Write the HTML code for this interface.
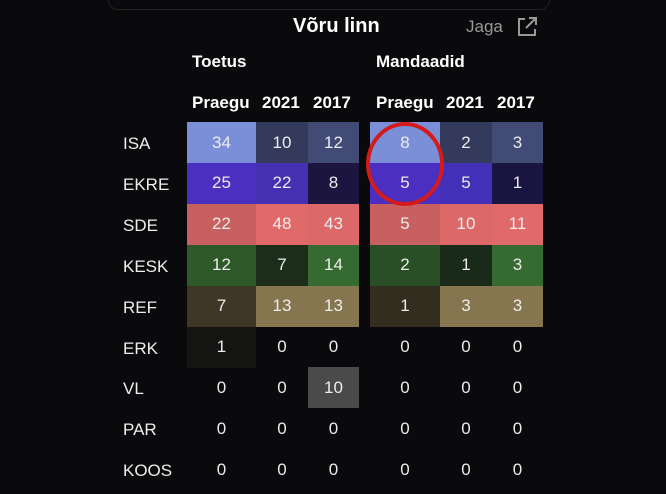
<!DOCTYPE html>
<html><head><meta charset="utf-8"><style>
body{margin:0;width:666px;height:494px;background:#0a0a0d;overflow:hidden;font-family:"Liberation Sans",sans-serif;color:#eee;position:relative}
.t{position:absolute;white-space:nowrap}
.c{position:absolute;display:flex;align-items:center;justify-content:center;font-size:17px;color:#ececec}
.h{font-weight:bold;font-size:17px;color:#fff}
.l{font-size:17px;color:#eee}
</style></head><body>
<div style="position:absolute;left:108px;top:-12px;width:440px;height:20px;border:1px solid #222;border-radius:10px"></div>
<div class="t" style="left:293px;top:15px;font-size:20px;font-weight:bold;color:#fff">Võru linn</div>
<div class="t" style="left:466px;top:17px;font-size:17px;color:#999">Jaga</div>
<svg class="t" style="left:516px;top:16px" width="22" height="22" viewBox="0 0 22 22" fill="none" stroke="#999" stroke-width="2"><path d="M9 3H3v16h16v-6"/><path d="M13 2h7v7M20 2l-10 10"/></svg>
<div class="t h" style="left:192px;top:52px">Toetus</div>
<div class="t h" style="left:376px;top:52px">Mandaadid</div>
<div class="t h" style="left:192px;top:93px">Praegu</div>
<div class="t h" style="left:262px;top:93px">2021</div>
<div class="t h" style="left:313px;top:93px">2017</div>
<div class="t h" style="left:376px;top:93px">Praegu</div>
<div class="t h" style="left:446px;top:93px">2021</div>
<div class="t h" style="left:497px;top:93px">2017</div>
<div id="g"></div>
<svg class="t" style="left:0;top:0" width="666" height="494"><ellipse cx="405" cy="164" rx="37" ry="40" fill="none" stroke="#d41a1a" stroke-width="4"/></svg>
<script>
var rows=[
["ISA",[["34","#7b8fd8"],["10","#343a5c"],["12","#414b76"],["8","#7b8fd8"],["2","#343a5c"],["3","#414b76"]]],
["EKRE",[["25","#4a2fc0"],["22","#4430b0"],["8","#1c1540"],["5","#4a2fc0"],["5","#4430b8"],["1","#1a1440"]]],
["SDE",[["22","#c96060"],["48","#e06a6a"],["43","#dc6868"],["5","#c96060"],["10","#dc6868"],["11","#e06a6a"]]],
["KESK",[["12","#2e5a2a"],["7","#1c2e1a"],["14","#356a30"],["2","#2a4f27"],["1","#1a2a18"],["3","#356a30"]]],
["REF",[["7","#3e3626"],["13","#857650"],["13","#857650"],["1","#332d20"],["3","#857650"],["3","#857650"]]],
["ERK",[["1","#141412"],["0",""],["0",""],["0",""],["0",""],["0",""]]],
["VL",[["0",""],["0",""],["10","#4a4a4a"],["0",""],["0",""],["0",""]]],
["PAR",[["0",""],["0",""],["0",""],["0",""],["0",""],["0",""]]],
["KOOS",[["0",""],["0",""],["0",""],["0",""],["0",""],["0",""]]]];
var xs=[187,256,308,370,440,492,543],h="";
rows.forEach(function(r,i){var y=122+i*40.9;
h+='<div class="t l" style="left:123px;top:'+(y+12)+'px">'+r[0]+'</div>';
r[1].forEach(function(c,j){var x0,x1;if(j<3){x0=xs[j];x1=j==2?359:xs[j+1];}else{x0=xs[j];x1=xs[j+1];}
h+='<div class="c" style="left:'+x0+'px;top:'+y+'px;width:'+(x1-x0)+'px;height:41px;background:'+(c[1]||'transparent')+'">'+c[0]+'</div>';});});
document.getElementById('g').innerHTML=h;
</script>
</body></html>
